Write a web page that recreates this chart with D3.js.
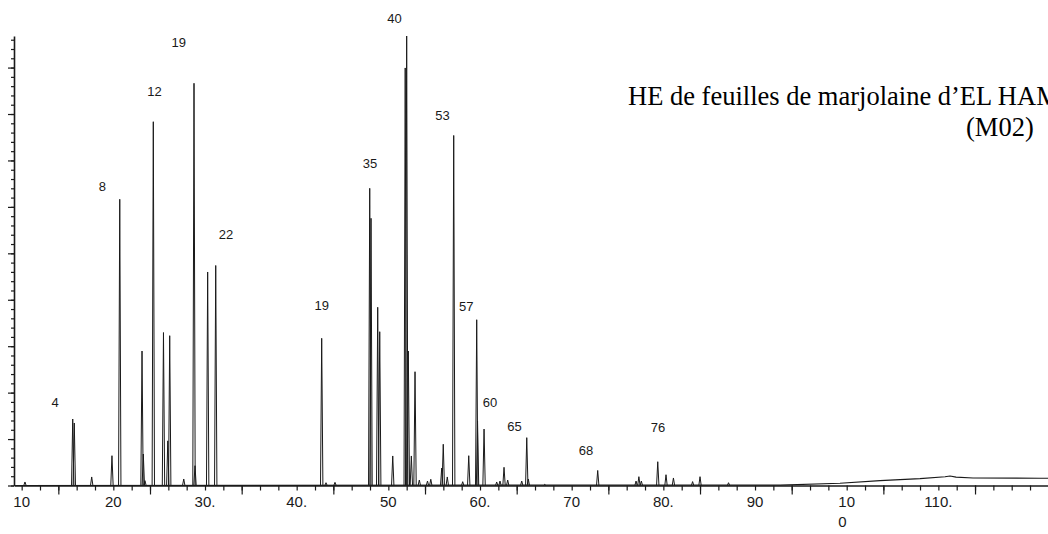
<!DOCTYPE html>
<html>
<head>
<meta charset="utf-8">
<script src="https://cdn.jsdelivr.net/npm/d3@7"></script>
<style>
  html, body { margin: 0; padding: 0; background: #fff; overflow: hidden; }
  svg { display: block; }
</style>
</head>
<body>
<svg id="chart" width="1048" height="534"></svg>
<script>
// Resolved peaks: retention time (min) and abundance (arbitrary units)
const peakTimes = [
  10.36, 15.57, 15.74, 17.64, 19.85, 20.70, 23.13, 23.27, 23.45, 24.36,
  25.47, 25.94, 26.15, 27.68, 28.80, 28.91, 30.29, 31.17, 42.73, 43.20,
  44.18, 47.97, 48.11, 48.84, 49.06, 50.48, 51.84, 52.00, 52.18, 52.51,
  52.91, 53.38, 54.27, 54.63, 55.82, 55.99, 56.43, 57.13, 58.11, 58.77,
  59.64, 59.73, 60.44, 61.82, 62.18, 62.62, 63.02, 64.55, 65.10, 65.27,
  67.06, 72.84, 77.02, 77.33, 77.60, 79.39, 80.29, 81.10, 83.19, 84.00,
  87.11
];
const peakHeights = [
  0.38, 7.16, 6.73, 0.92, 3.21, 30.82, 14.48, 3.39, 0.52, 39.17,
  16.47, 4.81, 16.13, 0.70, 43.31, 2.13, 22.99, 23.69, 15.85, 0.30,
  0.34, 32.00, 28.77, 19.19, 16.56, 3.18, 44.96, 48.40, 14.48, 3.18,
  12.25, 0.59, 0.48, 0.67, 1.88, 4.44, 0.92, 37.69, 0.41, 3.21,
  17.85, 6.95, 6.08, 0.38, 0.48, 1.96, 0.59, 0.48, 5.15, 0.70,
  0.12, 1.62, 0.48, 0.95, 0.48, 2.56, 1.16, 0.81, 0.42, 0.95,
  0.30
];

// Peak numbers written above the chromatogram
const labelTexts  = ["4", "8", "12", "19", "22", "19", "35", "40", "53", "57", "60", "65", "68", "76"];
const labelTimes  = [13.64, 18.80, 24.49, 27.14, 32.29, 42.73, 48.00, 50.67, 55.91, 58.51, 61.09, 63.76, 71.56, 79.42];
const labelLevels = [8.45, 31.71, 41.97, 47.22, 26.54, 18.90, 34.22, 49.77, 39.36, 18.82, 8.42, 5.87, 3.28, 5.76];

// Baseline drift towards the end of the run
const driftTimes  = [9.16, 92.73, 99.27, 103.64, 108.00, 110.73, 111.27, 111.93, 113.78, 121.09, 121.96];
const driftLevels = [0.00, 0.05, 0.24, 0.52, 0.73, 0.94, 1.02, 0.90, 0.81, 0.78, 0.78];

// Retention time axis
const timeTickValues = [10, 20, 30, 40, 50, 60, 70, 80, 90, 100, 110];
const timeTickLabels = ["10", "20", "30.", "40.", "50", "60.", "70", "80.", "90", "10\n0", "110."];
const minorTimeTicks = d3.range(10, 121, 2);
const majorTimeTicks = d3.range(14, 121, 10);

// Abundance axis ticks (unlabelled)
const minorLevelTicks = d3.range(0, 49, 1);
const majorLevelTicks = d3.range(0, 49, 5);

const titleLines = ["HE de feuilles de marjolaine d\u2019EL HAMMAM", "(M02)"];

const svg = d3.select("#chart");
const ink = "#1a1a1a";

const x = d3.scaleLinear().domain([9.164, 121.96]).range([14, 1048]);
const y = d3.scaleLinear().domain([0, 48.4]).range([485.5, 36]);

// Axes
const yMinor = d3.axisLeft(y).tickValues(minorLevelTicks).tickSize(3).tickSizeOuter(0).tickFormat("");
const yMajor = d3.axisLeft(y).tickValues(majorLevelTicks).tickSize(6).tickSizeOuter(0).tickFormat("");
const xMinor = d3.axisBottom(x).tickValues(minorTimeTicks).tickSize(5).tickSizeOuter(0).tickFormat("");
const xMajor = d3.axisBottom(x).tickValues(majorTimeTicks).tickSize(9).tickSizeOuter(0).tickFormat("");

function styleAxis(g, keepDomain) {
  g.selectAll("line").attr("stroke", ink).attr("stroke-width", 1.2);
  g.select(".domain").attr("stroke", ink).attr("stroke-width", 1.6);
  if (!keepDomain) g.select(".domain").remove();
}

svg.append("g").attr("transform", `translate(${x.range()[0]},0)`).call(yMinor).call(g => styleAxis(g, true));
svg.append("g").attr("transform", `translate(${x.range()[0]},0)`).call(yMajor).call(g => styleAxis(g, false));
svg.append("g").attr("transform", `translate(0,${y(0)})`).call(xMinor).call(g => styleAxis(g, true));
svg.append("g").attr("transform", `translate(0,${y(0)})`).call(xMajor).call(g => styleAxis(g, false));

// Retention time labels
const tickText = svg.append("g")
  .attr("font-family", "Liberation Sans, Arial, sans-serif")
  .attr("font-size", 15)
  .attr("fill", ink);

timeTickValues.forEach((v, i) => {
  const lines = timeTickLabels[i].split("\n");
  const t = tickText.append("text").attr("y", 507);
  if (lines.length === 1) {
    t.attr("x", x(v)).attr("text-anchor", "middle").text(lines[0]);
  } else {
    t.attr("text-anchor", "start");
    lines.forEach((ln, k) => {
      t.append("tspan").attr("dy", k === 0 ? 0 : 20).text(ln);
    });
    const w = t.select("tspan").node().getComputedTextLength();
    t.selectAll("tspan").attr("x", x(v) - w / 2);
  }
});

// Baseline of the trace
const baseLine = d3.line().x(d => x(d[0])).y(d => y(d[1]));
svg.append("path")
  .datum(driftTimes.map((t, i) => [t, driftLevels[i]]))
  .attr("d", baseLine)
  .attr("fill", "none")
  .attr("stroke", ink)
  .attr("stroke-width", 1.2);

// Peaks drawn as narrow spikes on the baseline
const halfWidth = 0.13;
svg.append("g")
  .selectAll("path")
  .data(peakTimes.map((t, i) => [t, peakHeights[i]]))
  .join("path")
  .attr("d", d => baseLine([[d[0] - halfWidth, 0], [d[0], d[1]], [d[0] + halfWidth, 0]]))
  .attr("fill", "none")
  .attr("stroke", ink)
  .attr("stroke-width", 1)
  .attr("stroke-linejoin", "miter");

// Peak numbers
svg.append("g")
  .attr("font-family", "Liberation Sans, Arial, sans-serif")
  .attr("font-size", 13)
  .attr("fill", ink)
  .attr("text-anchor", "middle")
  .selectAll("text")
  .data(labelTexts.map((s, i) => ({ s, t: labelTimes[i], h: labelLevels[i] })))
  .join("text")
  .attr("x", d => x(d.t))
  .attr("y", d => y(d.h))
  .text(d => d.s);

// Sample title
const title = svg.append("text")
  .attr("font-family", "Liberation Serif, Times New Roman, serif")
  .attr("font-size", 26.5)
  .attr("fill", "#000");
title.append("tspan").attr("x", 628).attr("y", 105).text(titleLines[0]);
title.append("tspan").attr("x", 966).attr("y", 136).text(titleLines[1]);
</script>
</body>
</html>
